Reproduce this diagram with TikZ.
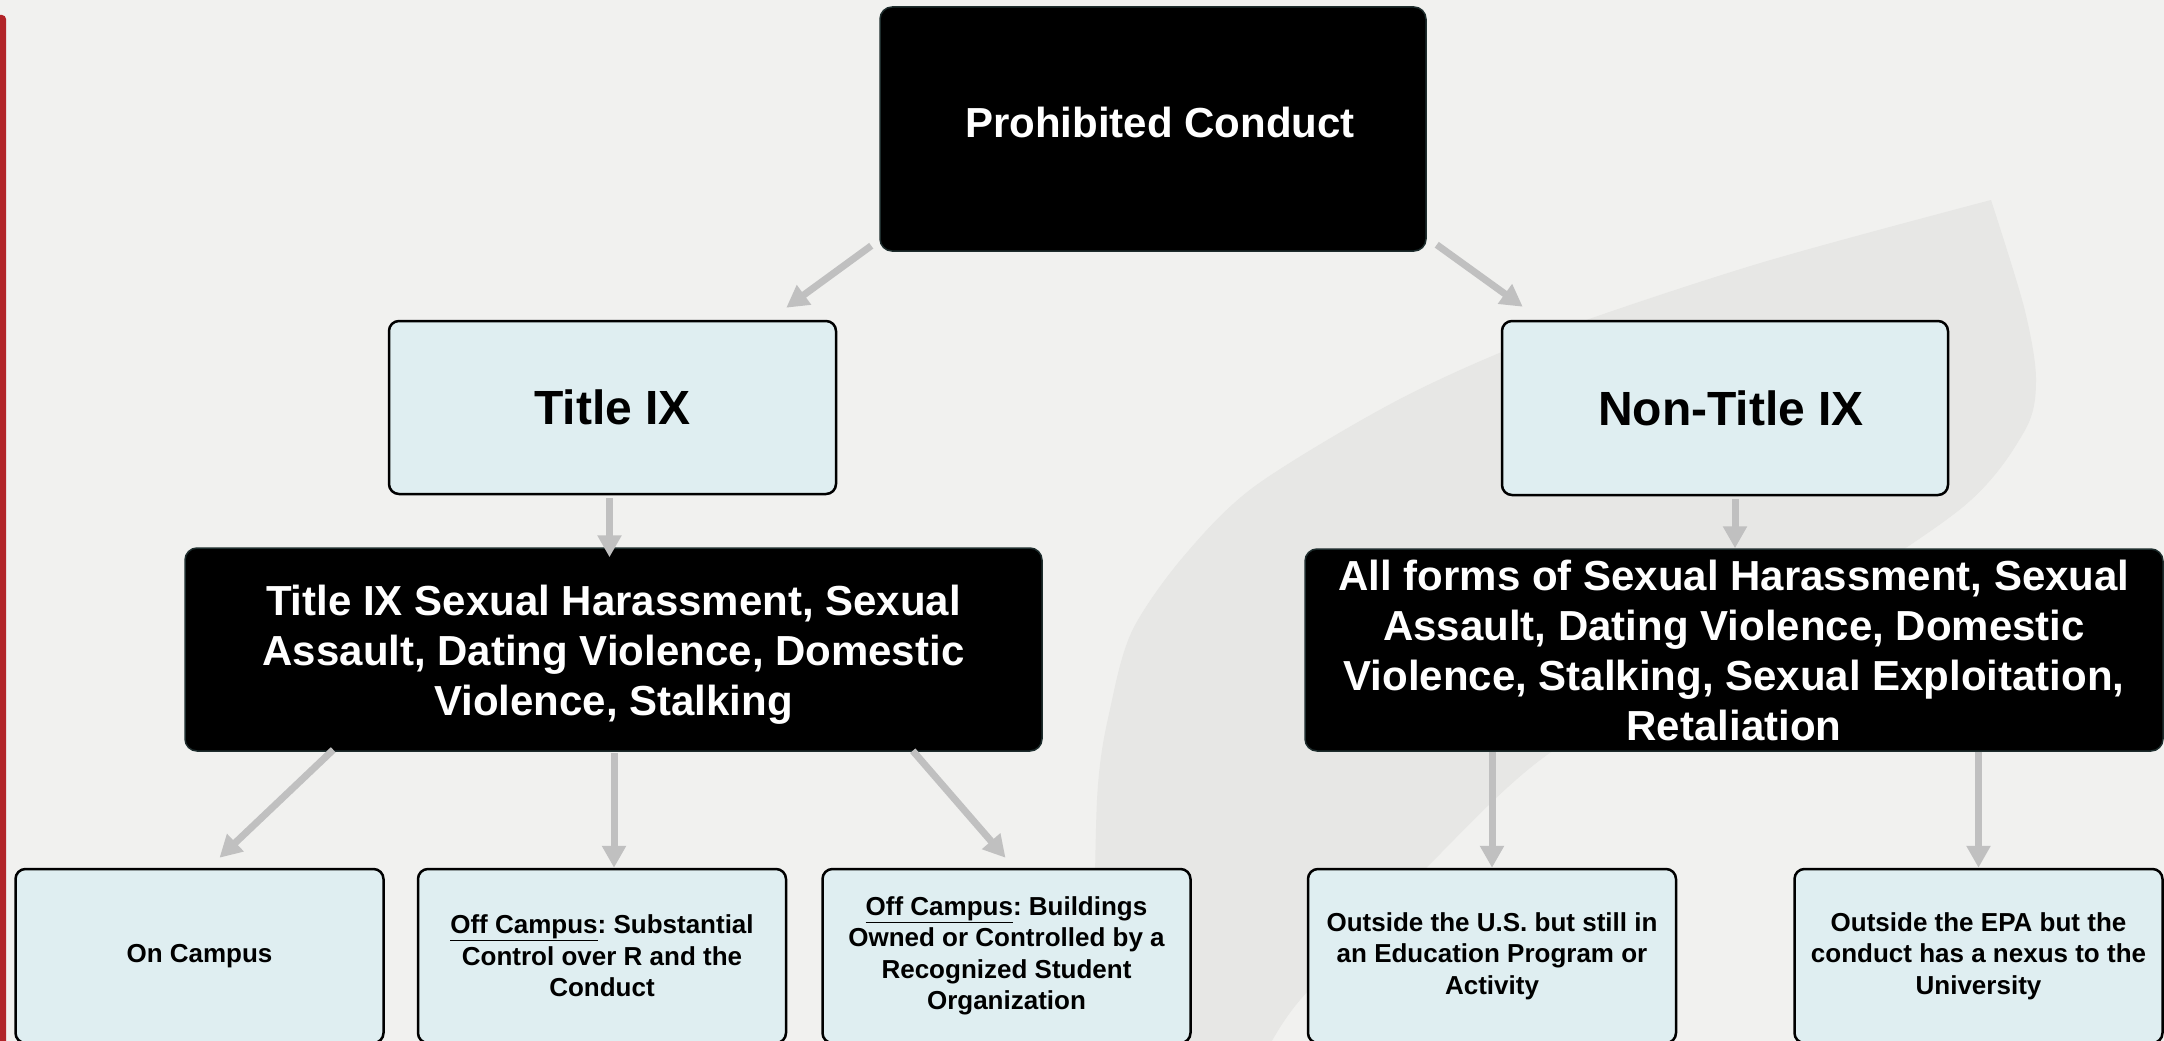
\documentclass[tikz,border=0pt]{standalone}
\usepackage{fontspec}
\setmainfont{Liberation Sans}
\usetikzlibrary{arrows.meta}
\definecolor{pagegray}{RGB}{241,241,239}
\definecolor{leafgray}{RGB}{231,231,229}
\definecolor{barred}{RGB}{178,36,40}
\definecolor{boxblue}{RGB}{223,238,241}
\definecolor{linkgray}{RGB}{192,192,192}
\definecolor{darkedge}{RGB}{30,45,45}
\frenchspacing
\begin{document}
\begin{tikzpicture}[>={Triangle[width=23pt,length=22pt]},x=1pt,y=-1pt,line join=bevel,
  lightbox/.style={draw=black,line width=2.5pt,fill=boxblue,rounded corners=10pt,align=center,inner sep=0pt},
  darkbox/.style={draw=darkedge,line width=1.5pt,fill=black,text=white,rounded corners=12pt,align=center,inner sep=0pt},
  link/.style={draw=linkgray,line width=7pt,->},
  bigtext/.style={font=\fontsize{48}{58}\selectfont\bfseries},
  midtext/.style={font=\fontsize{42}{50}\selectfont\bfseries},
  smalltext/.style={font=\fontsize{26}{31.5}\selectfont\bfseries,minimum width=368pt,minimum height=174pt}]
%%
 \useasboundingbox (0,0) rectangle (2164,1041);
 \fill [pagegray] (0,0) rectangle (2164,1041);
 \fill [leafgray] plot [smooth] coordinates {(1093,1060) (1097,800) (1112,700) (1133,629) (1183,557) (1255,486) (1398,400) (1542,336) (1757,264) (1991,200)}
   -- plot [smooth] coordinates {(1991,200) (2024,307) (2036,379) (2024,432) (1958,511) (1760,640) (1554,750) (1427,867) (1300,1000) (1262,1060)} -- cycle;
 \fill [barred,rounded corners=4pt] (-6,15) rectangle (6,1060);
%%
 \node (node_0) at (1153,129) [darkbox,midtext,minimum width=546pt,minimum height=244pt] {\hspace{14pt}\raisebox{7pt}[\height][\depth]{Prohibited Conduct}};
 \node (node_1) at (612.5,407.5) [lightbox,bigtext,minimum width=447pt,minimum height=173pt] {Title IX};
 \node (node_2) at (1725,408) [lightbox,bigtext,minimum width=446pt,minimum height=174pt] {\hspace{12pt}Non-Title IX};
 \node (node_3) at (613.5,649.5) [darkbox,midtext,minimum width=857pt,minimum height=203pt] {\raisebox{-6pt}[\height][\depth]{\begin{tabular}{@{}c@{}}Title IX Sexual Harassment, Sexual\\Assault, Dating Violence, Domestic\\Violence, Stalking\end{tabular}}};
 \node (node_4) at (1734,650) [darkbox,midtext,minimum width=858pt,minimum height=202pt] {All forms of Sexual Harassment, Sexual\\Assault, Dating Violence, Domestic\\Violence, Stalking, Sexual Exploitation,\\Retaliation};
 \node (node_5) at (199.5,956) [lightbox,smalltext] {On Campus};
 \node (node_6) at (602,956) [lightbox,smalltext] {\underline{Off Campus}: Substantial\\Control over R and the\\Conduct};
 \node (node_7) at (1006.5,956) [lightbox,smalltext] {\underline{Off Campus}: Buildings\\Owned or Controlled by a\\Recognized Student\\Organization};
 \node (node_8) at (1492,956) [lightbox,smalltext] {Outside the U.S. but still in\\an Education Program or\\Activity};
 \node (node_9) at (1978.5,956) [lightbox,smalltext] {Outside the EPA but the\\conduct has a nexus to the\\University};

  \draw [link] ([shift={(-8,-6)}]node_0.south west) -- ([shift={(-51,-12)}]node_1.north east);
  \draw [link] ([shift={(10,-7)}]node_0.south east) -- ([shift={(22,-13)}]node_2.north west);
  \draw [link] ([shift={(-3,3)}]node_1.south) -- ([shift={(-4,10)}]node_3.north);
  \draw [link] ([shift={(10,3)}]node_2.south) -- ([shift={(1,0)}]node_4.north);
  \draw [link] ([shift={(149,-2)}]node_3.south west) -- ([shift={(20,-10)}]node_5.north);
  \draw [link] ([shift={(0.5,1)}]node_3.south) -- ([shift={(12,0)}]node_6.north);
  \draw [link] ([shift={(-130,-1)}]node_3.south east) -- ([shift={(-1,-10)}]node_7.north);
  \draw [link] (node_4.south -| node_8.north) -- (node_8.north);
  \draw [link] (node_4.south -| node_9.north) -- (node_9.north);
%
\end{tikzpicture}
\end{document}
